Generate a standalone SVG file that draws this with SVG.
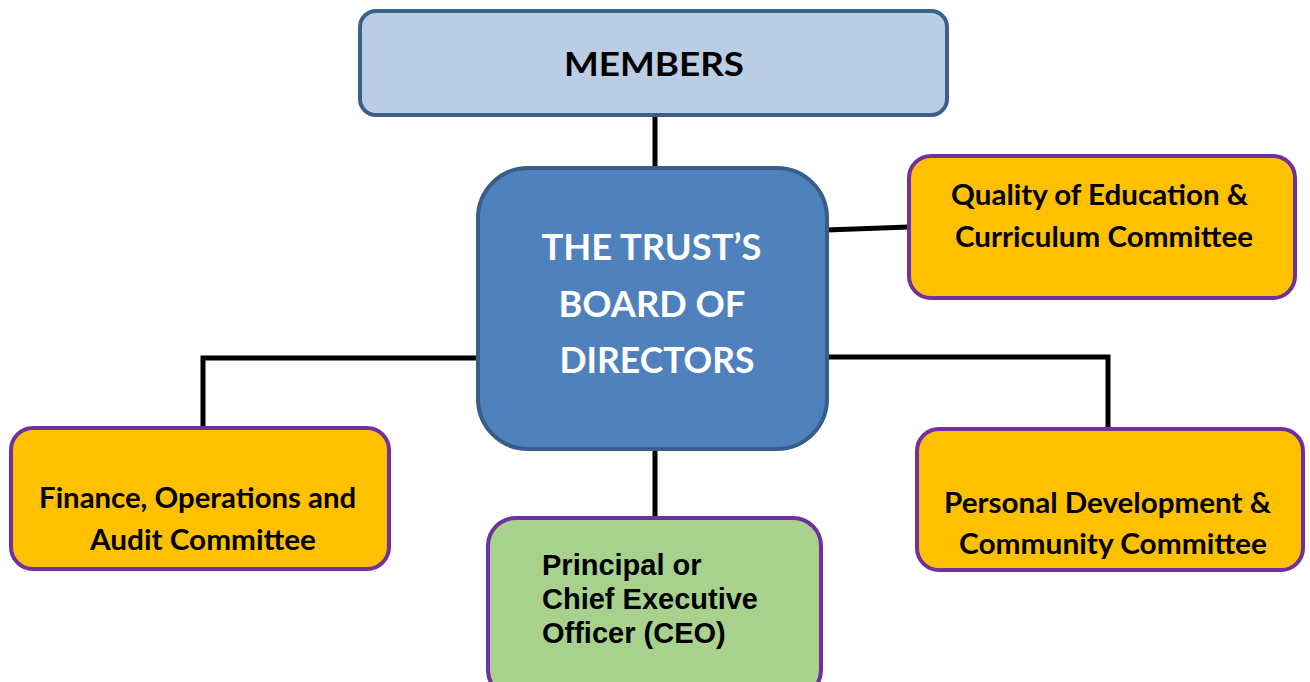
<svg xmlns="http://www.w3.org/2000/svg" width="1310" height="682" viewBox="0 0 1310 682">
<style>
.conn{stroke:#000;stroke-width:5;fill:none;stroke-linejoin:miter}
.cal{font-family:Lato,"Liberation Sans",sans-serif;font-weight:bold;text-anchor:middle}
.ari{font-family:"Liberation Sans",Arial,sans-serif;font-weight:bold}
.com{fill:#ffc000;stroke:#7030a0;stroke-width:4}
</style>
<rect width="1310" height="682" fill="#fff"/>
<g id="connectors">
<line class="conn" x1="655" y1="116" x2="655" y2="169"/>
<line class="conn" x1="826" y1="230" x2="909" y2="227"/>
<polyline class="conn" points="479,358 203,358 203,429"/>
<polyline class="conn" points="826,357 1108,357 1108,430"/>
<line class="conn" x1="655" y1="448" x2="655" y2="519"/>
</g>
<g id="members">
<rect x="360" y="11" width="587" height="104" rx="16" fill="#b9cde5" stroke="#3b5f8c" stroke-width="4"/>
<text class="cal" x="654" y="76" font-size="33" fill="#000" textLength="180" lengthAdjust="spacingAndGlyphs">MEMBERS</text>
</g>
<g id="board">
<rect x="478" y="168" width="349" height="281" rx="50" fill="#4f81bd" stroke="#385d8a" stroke-width="4"/>
<text class="cal" fill="#fff" font-size="37">
<tspan x="656" y="260" textLength="220" lengthAdjust="spacingAndGlyphs">THE TRUST’S</tspan>
<tspan x="656" y="317" textLength="186" lengthAdjust="spacingAndGlyphs">BOARD OF</tspan>
<tspan x="657" y="373" textLength="195" lengthAdjust="spacingAndGlyphs">DIRECTORS</tspan>
</text>
</g>
<g id="quality">
<rect class="com" x="909" y="156" width="386" height="142" rx="22"/>
<text class="cal" font-size="28" fill="#000">
<tspan x="1103" y="205" textLength="297" lengthAdjust="spacingAndGlyphs">Quality of Education &amp;</tspan>
<tspan x="1104" y="247" textLength="298" lengthAdjust="spacingAndGlyphs">Curriculum Committee</tspan>
</text>
</g>
<g id="finance">
<rect class="com" x="11" y="428" width="378" height="141" rx="22" stroke="#604a7b"/>
<text class="cal" font-size="28" fill="#000">
<tspan x="201" y="508" textLength="317" lengthAdjust="spacingAndGlyphs">Finance, Operations and</tspan>
<tspan x="203" y="550" textLength="226" lengthAdjust="spacingAndGlyphs">Audit Committee</tspan>
</text>
</g>
<g id="personal">
<rect class="com" x="917" y="429" width="386" height="141" rx="22"/>
<text class="cal" font-size="28" fill="#000">
<tspan x="1111" y="513" textLength="327" lengthAdjust="spacingAndGlyphs">Personal Development &amp;</tspan>
<tspan x="1113" y="554" textLength="308" lengthAdjust="spacingAndGlyphs">Community Committee</tspan>
</text>
</g>
<g id="ceo">
<rect x="488" y="518" width="333" height="180" rx="28" fill="#a9d18e" stroke="#7030a0" stroke-width="4"/>
<text class="ari" font-size="29" fill="#000">
<tspan x="542" y="575">Principal or</tspan>
<tspan x="542" y="609">Chief Executive</tspan>
<tspan x="542" y="643">Officer (CEO)</tspan>
</text>
</g>
</svg>
